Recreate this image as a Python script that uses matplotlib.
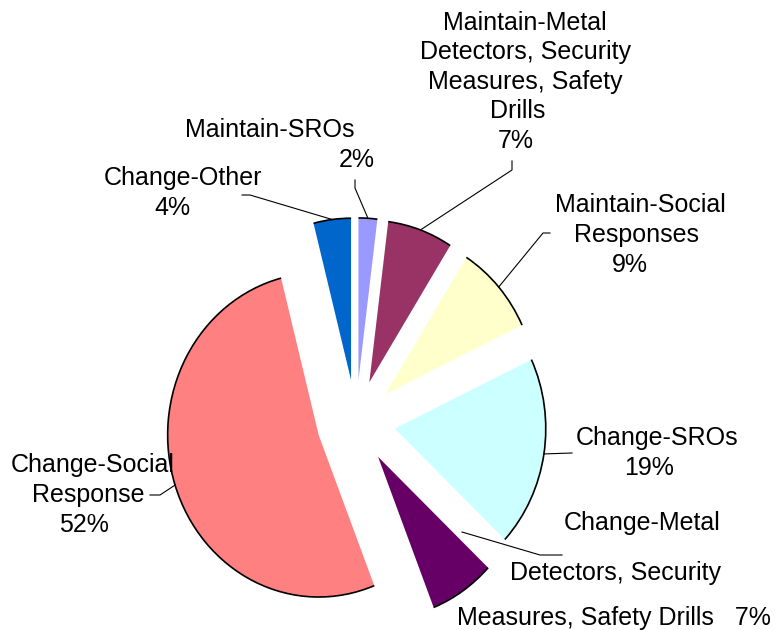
import matplotlib
matplotlib.use("Agg")
import matplotlib.pyplot as plt
from matplotlib.patches import Arc
import numpy as np

plt.rcParams['font.family'] = ['Liberation Sans', 'DejaVu Sans']

# data (clockwise from 12 o'clock)
categories = ["Maintain-SROs",
              "Maintain-Metal Detectors, Security Measures, Safety Drills",
              "Maintain-Social Responses",
              "Change-SROs",
              "Change-Metal Detectors, Security Measures, Safety Drills",
              "Change-Social Response",
              "Change-Other"]
shares = [2, 7, 9, 19, 7, 52, 4]
colors = ["#9999FF", "#993366", "#FFFFCC", "#CCFFFF", "#660066", "#FF8080", "#0066CC"]

W, H = 775, 630
fig = plt.figure(figsize=(W / 100, H / 100), dpi=100)
ax = fig.add_axes([0, 0, 1, 1])

wedges, _ = ax.pie(shares, colors=colors, startangle=90, counterclock=False,
                   explode=[0.26] * len(shares), radius=1,
                   wedgeprops=dict(linewidth=0))
# the original is a slightly squashed excel pie
ax.set_aspect('auto')
cx, cy, rx, ry = 356, 422, 151, 162
ax.set_xlim(-cx / rx, (W - cx) / rx)
ax.set_ylim((cy - H) / ry, cy / ry)
ax.axis('off')

# black outline only on the outer rim
for w in wedges:
    ax.add_patch(Arc(w.center, 2 * w.r, 2 * w.r, theta1=w.theta1, theta2=w.theta2,
                     color='black', lw=1.2))


def px(x, y):
    return ax.transData.inverted().transform((x, H - y))


def rim(w):
    a = np.deg2rad((w.theta1 + w.theta2) / 2)
    return (w.center[0] + w.r * np.cos(a), w.center[1] + w.r * np.sin(a))


# leader lines: elbow points in pixels, last point on the slice rim
leaders = {
    0: [(355, 180), (355, 188)],
    1: [(512, 161), (512, 170)],
    2: [(550, 233), (543, 233)],
    3: [(572, 453)],
    5: [(150, 495), (160, 495)],
    6: [(242, 195), (250, 195)],
}
for i, pts in leaders.items():
    xy = [px(*p) for p in pts] + [rim(wedges[i])]
    xs, ys = zip(*xy)
    ax.plot(xs, ys, color='black', lw=0.8)

# change-metal leader sits in the gap, as in the original
xy = [px(562, 555), px(540, 555), px(462, 532)]
xs, ys = zip(*xy)
ax.plot(xs, ys, color='black', lw=0.8)

# label lines: text, centre x, baseline y (pixels)
label_lines = [
    ("Maintain-SROs", 270, 137), ("2%", 357, 167),
    ("Maintain-Metal", 525, 30), ("Detectors, Security", 526, 59.5),
    ("Measures, Safety", 525.5, 89), ("Drills", 517.5, 118.5), ("7%", 516, 148),
    ("Maintain-Social", 640, 212), ("Responses", 636, 242), ("9%", 630, 272),
    ("Change-SROs", 657, 445), ("19%", 649, 475),
    ("Change-Metal", 642, 530), ("Detectors, Security", 615, 580),
    ("Measures, Safety Drills   7%", 614, 625),
    ("Change-Social", 93, 472), ("Response", 88, 502), ("52%", 84, 532),
    ("Change-Other", 183, 185), ("4%", 172, 215),
]
for s, x, y in label_lines:
    fig.text(x / W, 1 - y / H, s, ha='center', va='baseline', fontsize=18)

fig.savefig("out.png", dpi=100)
